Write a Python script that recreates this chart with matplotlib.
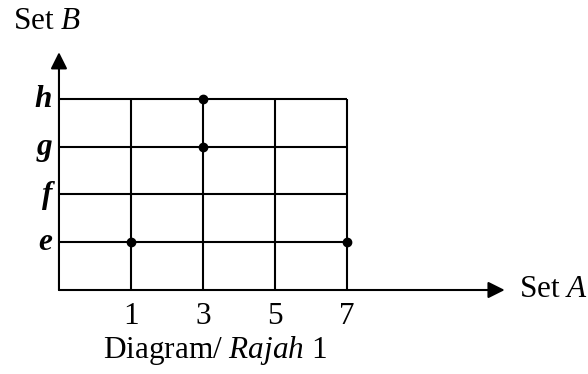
import matplotlib
matplotlib.use("Agg")
import matplotlib.pyplot as plt

# datos del diagrama
set_a = [1, 3, 5, 7]
set_b = ['e', 'f', 'g', 'h']
pares_a = [1, 3, 3, 7]
pares_b = ['e', 'g', 'h', 'e']

plt.rcParams['font.family'] = 'Liberation Serif'
plt.rcParams['mathtext.fontset'] = 'custom'
plt.rcParams['mathtext.rm'] = 'Liberation Serif'
plt.rcParams['mathtext.it'] = 'Liberation Serif:italic'

fig = plt.figure(figsize=(5.88, 3.74), dpi=100)
ax = fig.add_axes([0, 0, 1, 1])
ax.set_xlim(-0.819, 7.347)
ax.set_ylim(-1.759, 6.073)
ax.axis('off')

xs = list(range(1, len(set_a) + 1))
ys = list(range(1, len(set_b) + 1))
n_x = len(set_a)
n_y = len(set_b)

# grilla
for y in ys:
    ax.plot([0, n_x], [y, y], color='k', lw=1.5, solid_capstyle='butt')
for x in xs:
    ax.plot([x, x], [0, n_y], color='k', lw=1.5, solid_capstyle='butt')

# ejes con flechas
flecha = dict(arrowstyle='-|>', lw=1.5, color='k', mutation_scale=25,
              shrinkA=0, shrinkB=0)
ax.annotate('', xy=(6.19, 0), xytext=(0, 0), arrowprops=flecha)
ax.annotate('', xy=(0, 4.98), xytext=(0, 0), arrowprops=flecha)

# puntos
px = [xs[set_a.index(a)] for a in pares_a]
py = [ys[set_b.index(b)] for b in pares_b]
ax.plot(px, py, 'o', color='k', ms=6)

fs = 22.5
for x, a in zip(xs, set_a):
    ax.text(x, -0.712, str(a), ha='center', va='baseline', fontsize=fs)
for y, b in zip(ys, set_b):
    ax.text(-0.097, y - 0.17, b, ha='right', va='baseline', fontsize=fs,
            fontweight='bold', fontstyle='italic')

ax.text(-0.639, 5.466, 'Set $B$', ha='left', va='baseline', fontsize=fs)
ax.text(6.39, -0.147, 'Set $A$', ha='left', va='baseline', fontsize=fs)
ax.text(0.611, -1.424, 'Diagram/ $Rajah$ 1', ha='left', va='baseline', fontsize=fs)

fig.savefig('out.png', dpi=100)
